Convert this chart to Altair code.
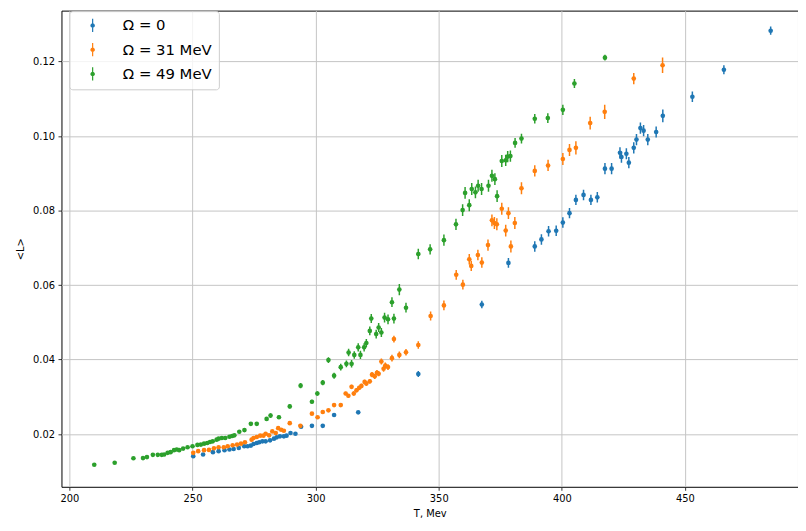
import altair as alt
import pandas as pd

# ---- data ----
names = ["Ω = 0", "Ω = 31 MeV", "Ω = 49 MeV"]
colors = ["#1f77b4", "#ff7f0e", "#2ca02c"]

T0 = [250.3, 254.3, 258.3, 260.6, 263.0, 265.0, 266.7, 268.8, 271.0, 272.4,
      273.7, 274.8, 276.1, 277.1, 278.4, 279.7, 281.5, 283.1, 284.2, 285.5,
      287.1, 288.2, 289.8, 291.8, 294.1, 298.5, 302.9, 307.5, 317.3, 341.7,
      367.5, 378.3, 389.0, 391.7, 394.6, 397.7, 400.4, 403.1, 405.7, 408.8,
      411.8, 414.4, 417.5, 420.2, 423.6, 424.2, 426.2, 427.2, 429.2, 430.3,
      431.9, 433.2, 434.9, 438.3, 441.0, 453.0, 465.8, 484.8]
L0 = [0.01407, 0.01450, 0.01514, 0.01540, 0.01567, 0.01584, 0.01600, 0.01628, 0.01673, 0.01673,
      0.01690, 0.01734, 0.01761, 0.01779, 0.01805, 0.01805, 0.01832, 0.01876, 0.01912, 0.01938,
      0.01938, 0.01956, 0.02027, 0.02008, 0.02195, 0.02220, 0.02220, 0.02513, 0.02584, 0.03612,
      0.05479, 0.06595, 0.07037, 0.07225, 0.07445, 0.07458, 0.07678, 0.07931, 0.08287, 0.08420,
      0.08287, 0.08356, 0.09126, 0.09126, 0.09551, 0.09437, 0.09525, 0.09286, 0.09684, 0.09906,
      0.10215, 0.10146, 0.09906, 0.10109, 0.10544, 0.11057, 0.11782, 0.12829]
E0 = [0.0002, 0.0002, 0.0002, 0.0002, 0.0002, 0.0002, 0.0002, 0.0002, 0.0002, 0.0002,
      0.0002, 0.0002, 0.0002, 0.0002, 0.0002, 0.0002, 0.0002, 0.0002, 0.0002, 0.0002,
      0.0002, 0.0002, 0.0002, 0.0002, 0.0003, 0.0003, 0.0003, 0.0003, 0.0003, 0.0008,
      0.0010, 0.0013, 0.0014, 0.0014, 0.0014, 0.0014, 0.0014, 0.0014, 0.0014, 0.0014,
      0.0014, 0.0014, 0.0015, 0.0015, 0.0015, 0.0015, 0.0015, 0.0015, 0.0015, 0.0015,
      0.0015, 0.0015, 0.0015, 0.0015, 0.0017, 0.0014, 0.0012, 0.0011]

T1 = [250.3, 252.3, 254.7, 256.7, 258.7, 260.6, 262.7, 264.3, 266.3, 268.1,
      269.7, 271.3, 274.0, 274.8, 276.1, 277.5, 278.8, 279.7, 281.1, 282.4,
      283.8, 284.8, 286.0, 287.1, 289.5, 293.8, 298.5, 300.8, 302.9, 305.2,
      307.5, 310.2, 312.2, 313.3, 314.6, 315.5, 316.6, 317.7, 318.6, 319.9,
      320.6, 322.0, 322.9, 324.0, 324.9, 325.6, 326.7, 327.6, 328.3, 329.4,
      331.0, 331.8, 334.0, 336.7, 341.7, 346.7, 352.1, 357.1, 359.8, 362.4,
      363.2, 365.9, 367.5, 370.0, 371.6, 372.6, 373.6, 375.6, 377.2, 378.3,
      379.3, 380.9, 383.6, 389.0, 394.4, 400.4, 403.1, 405.7, 411.5, 417.4,
      429.2, 440.9]
L1 = [0.01495, 0.01540, 0.01567, 0.01575, 0.01620, 0.01646, 0.01646, 0.01673, 0.01700, 0.01717,
      0.01743, 0.01779, 0.01849, 0.01894, 0.01920, 0.01956, 0.01956, 0.02008, 0.01965, 0.02071,
      0.02027, 0.02159, 0.02115, 0.02089, 0.02292, 0.02220, 0.02548, 0.02452, 0.02593, 0.02637,
      0.02778, 0.02778, 0.03089, 0.03028, 0.03267, 0.03089, 0.03177, 0.03240, 0.03293, 0.03400,
      0.03355, 0.03416, 0.03594, 0.03549, 0.03647, 0.03620, 0.03947, 0.03753, 0.03841, 0.03797,
      0.04037, 0.04550, 0.04125, 0.04196, 0.04390, 0.05169, 0.05453, 0.06276, 0.06011, 0.06693,
      0.06515, 0.06808, 0.06604, 0.07073, 0.07737, 0.07665, 0.07631, 0.08048, 0.07462, 0.07931,
      0.07037, 0.07665, 0.08600, 0.09065, 0.09211, 0.09384, 0.09628, 0.09684, 0.10348, 0.10650,
      0.11543, 0.11900]
E1 = [0.0002, 0.0002, 0.0002, 0.0002, 0.0002, 0.0002, 0.0002, 0.0002, 0.0002, 0.0002,
      0.0002, 0.0002, 0.0002, 0.0002, 0.0002, 0.0002, 0.0002, 0.0002, 0.0002, 0.0002,
      0.0002, 0.0002, 0.0002, 0.0002, 0.0002, 0.0002, 0.0003, 0.0003, 0.0003, 0.0003,
      0.0003, 0.0003, 0.0005, 0.0005, 0.0006, 0.0006, 0.0006, 0.0006, 0.0006, 0.0006,
      0.0006, 0.0006, 0.0007, 0.0007, 0.0007, 0.0007, 0.0008, 0.0008, 0.0008, 0.0008,
      0.0009, 0.0009, 0.0009, 0.0009, 0.0010, 0.0012, 0.0013, 0.0013, 0.0013, 0.0014,
      0.0014, 0.0014, 0.0014, 0.0015, 0.0016, 0.0016, 0.0016, 0.0016, 0.0016, 0.0016,
      0.0016, 0.0016, 0.0016, 0.0015, 0.0015, 0.0016, 0.0016, 0.0018, 0.0017, 0.0019,
      0.0015, 0.0021]

T2 = [210.1, 218.4, 226.0, 229.9, 231.5, 233.9, 235.9, 237.5, 238.5, 239.9,
      241.1, 242.5, 243.6, 244.6, 246.2, 248.0, 250.0, 252.0, 253.4, 254.7,
      256.0, 257.1, 258.2, 259.8, 260.6, 261.9, 263.3, 265.0, 266.1, 267.0,
      269.0, 271.1, 273.7, 276.1, 280.1, 281.7, 285.1, 289.5, 293.9, 298.5,
      300.7, 302.9, 305.2, 307.5, 310.2, 312.5, 313.4, 314.6, 315.7, 317.3,
      318.2, 319.7, 320.6, 322.0, 322.6, 324.6, 325.6, 326.7, 328.0, 329.4,
      331.0, 331.8, 334.0, 336.7, 341.7, 346.5, 352.1, 357.0, 359.7, 360.7,
      362.4, 363.4, 364.9, 366.0, 367.4, 370.2, 371.6, 372.8, 373.7, 375.6,
      377.2, 378.0, 379.1, 381.0, 383.6, 389.0, 394.3, 400.4, 405.1, 417.5]
L2 = [0.01177, 0.01230, 0.01350, 0.01355, 0.01381, 0.01442, 0.01442, 0.01442, 0.01450, 0.01495,
      0.01514, 0.01567, 0.01584, 0.01567, 0.01610, 0.01646, 0.01673, 0.01708, 0.01717, 0.01743,
      0.01761, 0.01788, 0.01805, 0.01849, 0.01876, 0.01894, 0.01894, 0.01929, 0.01947, 0.01965,
      0.02062, 0.02106, 0.02274, 0.02274, 0.02407, 0.02496, 0.02452, 0.02743, 0.03300, 0.02868,
      0.03089, 0.03380, 0.03985, 0.03567, 0.03795, 0.03886, 0.04187, 0.03886, 0.04125, 0.04329,
      0.04125, 0.04329, 0.04444, 0.04770, 0.05100, 0.04683, 0.04860, 0.04727, 0.05126, 0.05081,
      0.05540, 0.05100, 0.05878, 0.05392, 0.06834, 0.06959, 0.07206, 0.07631, 0.08012, 0.08475,
      0.08145, 0.08579, 0.08489, 0.08667, 0.08579, 0.08667, 0.08933, 0.08844, 0.08387, 0.09330,
      0.09349, 0.09450, 0.09463, 0.09817, 0.09933, 0.10465, 0.10483, 0.10704, 0.11410, 0.12106]
E2 = [0.0001, 0.0001, 0.0001, 0.0001, 0.0001, 0.0001, 0.0001, 0.0001, 0.0001, 0.0001,
      0.0002, 0.0002, 0.0002, 0.0002, 0.0002, 0.0002, 0.0002, 0.0002, 0.0002, 0.0002,
      0.0002, 0.0002, 0.0002, 0.0002, 0.0002, 0.0002, 0.0002, 0.0002, 0.0002, 0.0002,
      0.0003, 0.0003, 0.0004, 0.0004, 0.0005, 0.0006, 0.0005, 0.0006, 0.0007, 0.0005,
      0.0006, 0.0007, 0.0008, 0.0008, 0.0009, 0.0009, 0.0010, 0.0010, 0.0010, 0.0011,
      0.0011, 0.0011, 0.0011, 0.0012, 0.0012, 0.0012, 0.0012, 0.0012, 0.0013, 0.0013,
      0.0013, 0.0013, 0.0015, 0.0013, 0.0014, 0.0014, 0.0015, 0.0015, 0.0016, 0.0016,
      0.0016, 0.0016, 0.0016, 0.0016, 0.0016, 0.0016, 0.0016, 0.0016, 0.0016, 0.0016,
      0.0015, 0.0015, 0.0015, 0.0013, 0.0013, 0.0013, 0.0013, 0.0014, 0.0012, 0.0008]

x_ticks = [200, 250, 300, 350, 400, 450]
y_ticks = [0.02, 0.04, 0.06, 0.08, 0.10, 0.12]

# ---- table ----
frames = []
for name, T, L, E in [(names[0], T0, L0, E0), (names[1], T1, L1, E1), (names[2], T2, L2, E2)]:
    frames.append(pd.DataFrame({"T": T, "L": L, "err": E, "series": name, "bar_series": name}))
df = pd.concat(frames, ignore_index=True)

FONT = "DejaVu Sans"
x_scale = alt.Scale(domain=[196.78, 495.9], nice=False, zero=False)
y_scale = alt.Scale(domain=[0.00584, 0.13368], nice=False, zero=False)
x_axis = alt.Axis(values=x_ticks, title="T, Mev", format="d")
y_axis = alt.Axis(values=y_ticks, title="<L>", format=".2f")

legend_symbol = ("M-0.09,-1L0.09,-1L0.09,1L-0.09,1Z"
                 "M-0.34,0A0.34,0.34 0 1,1 0.34,0A0.34,0.34 0 1,1 -0.34,0Z")

base = alt.Chart(df)

bars = base.transform_calculate(
    lo="datum.L - datum.err", hi="datum.L + datum.err"
).mark_rule(strokeWidth=1.5, clip=True).encode(
    x=alt.X("T:Q", scale=x_scale, axis=x_axis),
    y=alt.Y("lo:Q", scale=y_scale, axis=y_axis),
    y2="hi:Q",
    stroke=alt.Stroke("bar_series:N", scale=alt.Scale(domain=names, range=colors), legend=None),
)

dots = base.mark_circle(size=22, opacity=1, clip=True).encode(
    x=alt.X("T:Q", scale=x_scale, axis=x_axis),
    y=alt.Y("L:Q", scale=y_scale, axis=y_axis),
    color=alt.Color(
        "series:N",
        scale=alt.Scale(domain=names, range=colors),
        legend=alt.Legend(
            title=None, orient="none", legendX=8, legendY=0.5,
            symbolType=legend_symbol, symbolSize=180, symbolStrokeWidth=0,
            symbolOffset=9, labelOffset=23, padding=7, rowPadding=8.5,
            labelFont=FONT, labelFontSize=15, labelColor="black",
            fillColor="rgba(255,255,255,0.8)", strokeColor="#cccccc",
            cornerRadius=3,
        ),
    ),
)

chart = alt.layer(bars, dots).resolve_scale(
    color="independent", stroke="independent"
).properties(
    width=744, height=481,
    autosize=alt.AutoSizeParams(type="none"),
    padding={"left": 54, "top": 0, "right": 0, "bottom": 42},
    background="white",
).configure_view(
    stroke="black", strokeWidth=1
).configure_axis(
    domain=False, grid=True, gridColor="#c4c4c4", gridWidth=1,
    tickColor="black", tickSize=3.5, tickWidth=0.8,
    labelFont=FONT, labelFontSize=10, labelColor="black", labelPadding=3.5,
    titleFont=FONT, titleFontSize=10, titleColor="black", titleFontWeight="normal",
).configure_axisX(
    titlePadding=5
).configure_axisY(
    titlePadding=7
)

chart.save("out.html", embed_options={"renderer": "svg", "actions": False})
